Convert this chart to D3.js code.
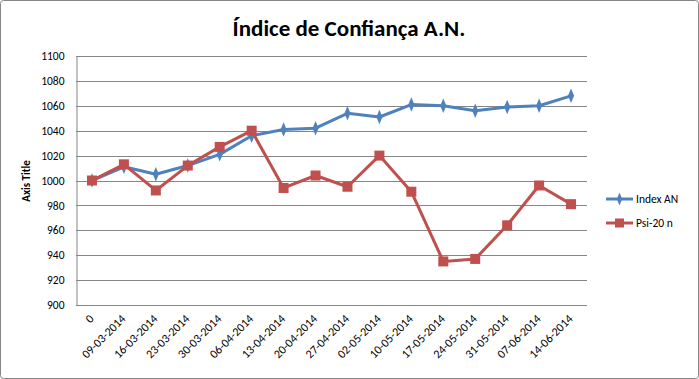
<!DOCTYPE html>
<html><head><meta charset="utf-8">
<script src="https://cdn.jsdelivr.net/npm/d3@7"></script>
<style>body{margin:0;background:#fff}svg{display:block}</style>
</head><body>
<svg id="c" width="699" height="379"></svg>
<script>
const categories = ["0","09-03-2014","16-03-2014","23-03-2014","30-03-2014","06-04-2014","13-04-2014","20-04-2014","27-04-2014","02-05-2014","10-05-2014","17-05-2014","24-05-2014","31-05-2014","07-06-2014","14-06-2014"];
const indexAN = [1000,1011,1005,1012,1021,1036,1041,1042,1054,1051,1061,1060,1056,1059,1060,1068];
const psi20 = [1000,1013,992,1012,1027,1040,994,1004,995,1020,991,935,937,964,996,981];
const yTicks = [900,920,940,960,980,1000,1020,1040,1060,1080,1100];
const seriesNames = ["Index AN","Psi-20 n"];
const colors = ["#4F81BD","#C0504D"];

const svg = d3.select("#c");
const font = "Calibri, Carlito, Lato, 'Liberation Sans', sans-serif";
svg.append("rect").attr("x",0.5).attr("y",0.5).attr("width",698).attr("height",378)
  .attr("fill","#fff").attr("stroke","#868686").attr("rx",3);

const L=76, R=587, T=56, B=305;
const x = d3.scalePoint().domain(categories).range([L, R]).padding(0.5);
const y = d3.scaleLinear().domain([900,1100]).range([B, T]);

// gridlines
svg.append("g").selectAll("line").data(yTicks).join("line")
  .attr("x1",L).attr("x2",R).attr("y1",d=>Math.round(y(d))+0.5).attr("y2",d=>Math.round(y(d))+0.5)
  .attr("stroke","#868686").attr("stroke-width",1);

// y axis
const yAxis = svg.append("g").attr("transform",`translate(${L+0.5},0)`)
  .call(d3.axisLeft(y).tickValues(yTicks).tickFormat(d3.format("d")).tickSize(0).tickPadding(12));
yAxis.select(".domain").attr("stroke","#868686");
yAxis.selectAll("text").attr("font-family",font).attr("font-size",11.5).attr("fill","#000");

// x axis
const xAxis = svg.append("g").attr("transform",`translate(0,${B+0.5})`)
  .call(d3.axisBottom(x).tickSize(0).tickPadding(0));
xAxis.select(".domain").attr("stroke","#868686").attr("d",`M${L},0H${R}`);
xAxis.selectAll("text").attr("font-family",font).attr("font-size",12).attr("fill","#000")
  .attr("text-anchor","end").attr("dy",0).attr("dx",0)
  .attr("transform","translate(2,14) rotate(-45)");

// lines
const series=[indexAN,psi20];
const line = d3.line().x((d,i)=>x(categories[i])).y(d=>y(d));
series.forEach((s,k)=>{
  svg.append("path").datum(s).attr("d",line).attr("fill","none")
    .attr("stroke",colors[k]).attr("stroke-width",3).attr("stroke-linejoin","round");
});
// markers
svg.append("g").selectAll("path").data(indexAN).join("path")
  .attr("d",d3.symbol(d3.symbolDiamond,50)())
  .attr("transform",(d,i)=>`translate(${x(categories[i])},${y(d)}) scale(0.8,1.1)`)
  .attr("fill",colors[0]);
svg.append("g").selectAll("rect").data(psi20).join("rect")
  .attr("x",(d,i)=>x(categories[i])-5).attr("y",d=>y(d)-5).attr("width",10).attr("height",10)
  .attr("fill",colors[1]);

// title
svg.append("text").attr("x",349).attr("y",36).attr("text-anchor","middle")
  .attr("font-family",font).attr("font-weight","bold").attr("font-size",23).text("Índice de Confiança A.N.");

// axis title
svg.append("text").attr("transform","translate(30,181) rotate(-90)").attr("text-anchor","middle")
  .attr("font-family",font).attr("font-weight","bold").attr("font-size",11).text("Axis Title");

// legend
const lg = svg.append("g");
seriesNames.forEach((n,k)=>{
  const ly = 199 + k*24;
  lg.append("line").attr("x1",606).attr("x2",633).attr("y1",ly).attr("y2",ly)
    .attr("stroke",colors[k]).attr("stroke-width",3);
  if(k===0) lg.append("path").attr("d",d3.symbol(d3.symbolDiamond,40)())
    .attr("transform",`translate(619.5,${ly}) scale(0.8,1.1)`).attr("fill",colors[k]);
  else lg.append("rect").attr("x",615).attr("y",ly-4.5).attr("width",9).attr("height",9).attr("fill",colors[k]);
  lg.append("text").attr("x",636).attr("y",ly+4).attr("font-family",font).attr("font-size",11.5).text(n);
});
</script>
</body></html>
